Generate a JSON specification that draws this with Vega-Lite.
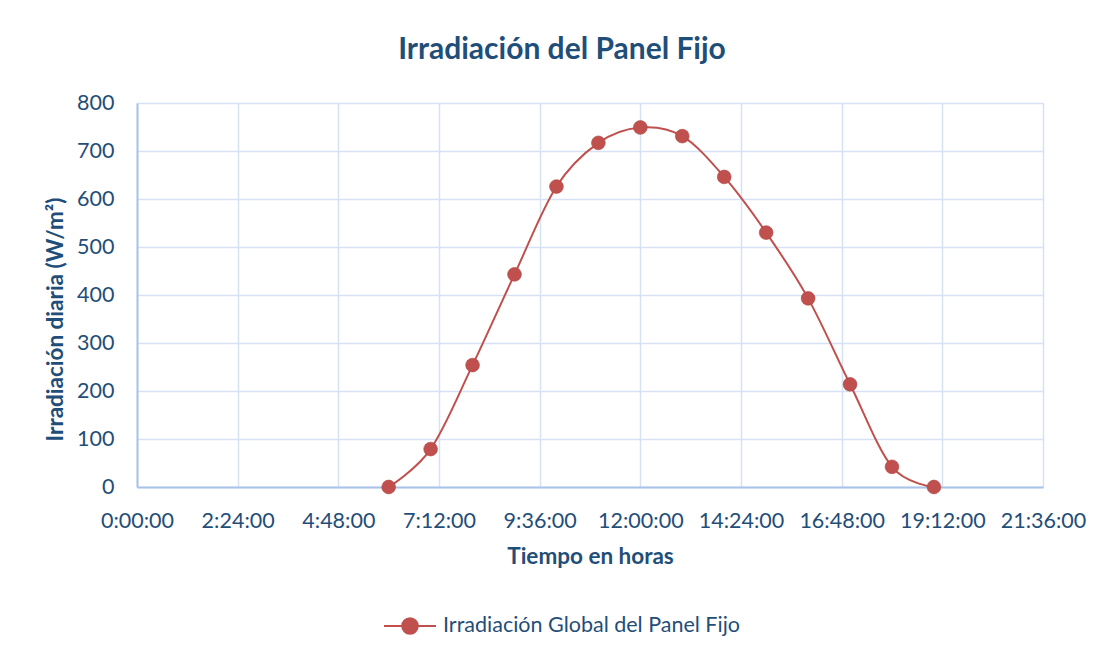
{
  "$schema": "https://vega.github.io/schema/vega-lite/v6.json",
  "width": 906,
  "height": 384,
  "autosize": {"type": "none"},
  "padding": {"left": 137, "top": 103, "right": 67, "bottom": 170},
  "background": "white",
  "config": {
    "font": "Lato",
    "view": {"stroke": null},
    "axis": {
      "labelFont": "Lato",
      "labelFontSize": 21.5,
      "labelColor": "#1F4E79",
      "titleFont": "Lato",
      "titleFontSize": 22.5,
      "titleFontWeight": "bold",
      "titleColor": "#1F4E79",
      "ticks": false,
      "tickSize": 0,
      "gridColor": "#D6E2F3",
      "gridWidth": 1.5,
      "domainColor": "#A9C3E8",
      "domainWidth": 2
    }
  },
  "title": {
    "text": "Irradiación del Panel Fijo",
    "font": "Lato",
    "fontSize": 30,
    "fontWeight": "bold",
    "color": "#1F4E79",
    "anchor": "middle",
    "frame": "group",
    "baseline": "alphabetic",
    "offset": 3,
    "dx": -28
  },
  "data": {
    "values": [
      {"hora": 6, "irr": 0, "serie": "Irradiación Global del Panel Fijo"},
      {"hora": 7, "irr": 79, "serie": "Irradiación Global del Panel Fijo"},
      {"hora": 8, "irr": 254, "serie": "Irradiación Global del Panel Fijo"},
      {"hora": 9, "irr": 443, "serie": "Irradiación Global del Panel Fijo"},
      {"hora": 10, "irr": 626, "serie": "Irradiación Global del Panel Fijo"},
      {"hora": 11, "irr": 717, "serie": "Irradiación Global del Panel Fijo"},
      {"hora": 12, "irr": 749, "serie": "Irradiación Global del Panel Fijo"},
      {"hora": 13, "irr": 731, "serie": "Irradiación Global del Panel Fijo"},
      {"hora": 14, "irr": 646, "serie": "Irradiación Global del Panel Fijo"},
      {"hora": 15, "irr": 530, "serie": "Irradiación Global del Panel Fijo"},
      {"hora": 16, "irr": 393, "serie": "Irradiación Global del Panel Fijo"},
      {"hora": 17, "irr": 214, "serie": "Irradiación Global del Panel Fijo"},
      {"hora": 18, "irr": 42, "serie": "Irradiación Global del Panel Fijo"},
      {"hora": 19, "irr": 0, "serie": "Irradiación Global del Panel Fijo"}
    ]
  },
  "encoding": {
    "x": {
      "field": "hora",
      "type": "quantitative",
      "scale": {"domain": [0, 21.6], "nice": false, "zero": false},
      "axis": {
        "title": "Tiempo en horas",
        "values": [0, 2.4, 4.8, 7.2, 9.6, 12, 14.4, 16.8, 19.2, 21.6],
        "labelExpr": "floor(datum.value + 0.000001) + ':' + (round((datum.value - floor(datum.value + 0.000001)) * 60) < 10 ? '0' : '') + round((datum.value - floor(datum.value + 0.000001)) * 60) + ':00'",
        "labelPadding": 23,
        "labelFlush": false,
        "labelOverlap": false,
        "titleY": 76,
        "titleBaseline": "alphabetic"
      }
    },
    "y": {
      "field": "irr",
      "type": "quantitative",
      "scale": {"domain": [0, 800], "nice": false},
      "axis": {
        "title": "Irradiación diaria (W/m²)",
        "values": [0, 100, 200, 300, 400, 500, 600, 700, 800],
        "labelPadding": 23,
        "labelOverlap": false,
        "titleX": -75,
        "titleY": 216,
        "titleAngle": -90,
        "titleAlign": "center",
        "titleBaseline": "alphabetic"
      }
    },
    "color": {
      "field": "serie",
      "type": "nominal",
      "scale": {"range": ["#C0504D"]},
      "legend": {
        "title": null,
        "orient": "none",
        "legendX": 246,
        "legendY": 496,
        "padding": 0,
        "symbolType": "M-1,0L1,0M-0.3,0A0.3,0.3,0,1,1,0.3,0A0.3,0.3,0,1,1,-0.3,0Z",
        "symbolSize": 2704,
        "symbolStrokeWidth": 2,
        "labelFont": "Lato",
        "labelFontSize": 21.5,
        "labelColor": "#1F4E79",
        "labelOffset": 6,
        "labelLimit": 600,
        "encode": {
          "symbols": {
            "update": {
              "fill": {"value": "#C0504D"},
              "stroke": {"value": "#C0504D"},
              "strokeWidth": {"value": 2},
              "opacity": {"value": 1}
            }
          }
        }
      }
    }
  },
  "layer": [
    {
      "mark": {"type": "line", "interpolate": "cardinal", "strokeWidth": 2}
    },
    {
      "mark": {"type": "point", "filled": true, "size": 190, "opacity": 1, "stroke": "#AD4542", "strokeWidth": 0.6}
    }
  ]
}
